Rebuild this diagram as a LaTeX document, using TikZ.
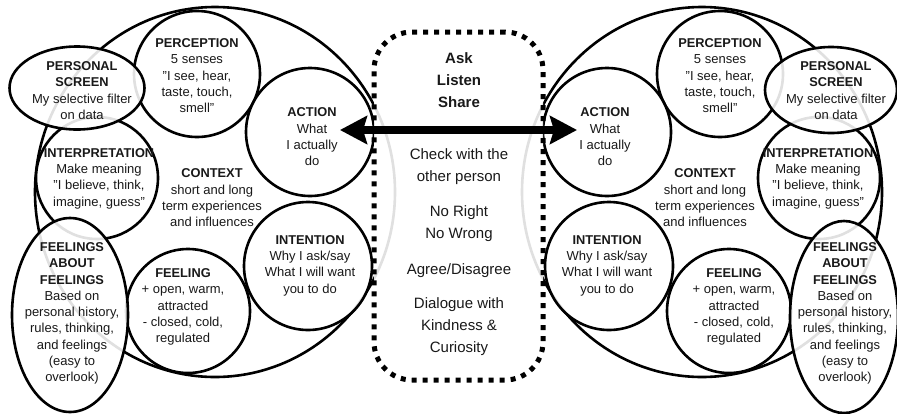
\documentclass[tikz,border=0pt]{standalone}
\usepackage{fontspec}
\setmainfont{Liberation Sans}
\usetikzlibrary{shapes.geometric,arrows.meta}
\newcommand{\ttl}[1]{{\fontsize{12.8}{16.3}\selectfont\bfseries #1}}
\newcommand{\qq}{\symbol{34}}
\begin{document}
\begin{tikzpicture}[x=1pt,y=-1pt,
  shp/.style={draw=black, line width=2.6pt, fill=white, fill opacity=0.88, inner sep=0pt},
  circ/.style={shp, circle, minimum size=#1},
  ell/.style 2 args={shp, ellipse, minimum width=#1, minimum height=#2},
  big/.style={draw=black, line width=2.6pt, ellipse, minimum width=360pt, minimum height=370pt, inner sep=0pt},
  lbl/.style={align=center, inner sep=0pt, text=black!90, font=\fontsize{13}{16.3}\selectfont},
  mid/.style={align=center, inner sep=0pt, text=black!90, font=\fontsize{15}{22}\selectfont},
  dotbox/.style={draw=black, line width=5pt, dash pattern=on 5pt off 6pt, rounded corners=38pt,
    fill=white, fill opacity=0.88, inner sep=0pt, minimum width=169pt, minimum height=348pt},
  bigarrow/.style={line width=7.5pt, {Stealth[length=27pt,width=28pt,inset=4pt]}-{Stealth[length=27pt,width=28pt,inset=4pt]}}
]
\useasboundingbox (0,0) rectangle (897,413);
\fill[white] (0,0) rectangle (897,413);

% large outer ellipses
\node[big] (bigL) at (215,192) {};
\node[big] (bigR) at (702,192) {};

% left bubbles
\node[circ=126pt] (perL) at (197,74) {};
\node[circ=122pt] (intL) at (97,178) {};
\node[circ=124pt] (feelL) at (188,311) {};
\node[circ=128pt] (actL) at (310,132) {};
\node[circ=128pt] (intnL) at (308,266) {};
\node[ell={135pt}{83pt}] (scrL) at (77,88) {};
\node[ell={116pt}{194pt}] (fafL) at (70,315) {};

% right bubbles
\node[circ=126pt] (perR) at (720,74) {};
\node[circ=122pt] (intR) at (819,178) {};
\node[circ=124pt] (feelR) at (729,311) {};
\node[circ=128pt] (actR) at (607,132) {};
\node[circ=128pt] (intnR) at (609,266) {};
\node[ell={132pt}{86pt}] (scrR) at (831,90) {};
\node[ell={108pt}{192pt}] (fafR) at (844,317) {};

% central box
\node[dotbox] (box) at (458.5,206) {};

% arrow
\coordinate (aL) at (340,130);
\coordinate (aR) at (577,130);
\draw[bigarrow] (aL) -- (aR);

% central texts
\node[mid] (t1) at (459,80.3) {\bfseries Ask\\\bfseries Listen\\\bfseries Share};
\node[mid] (t2) at (459,167) {Check with the\\other person};
\node[mid] (t3) at (459,224) {No Right\\No Wrong};
\node[mid] (t4) at (459,271) {Agree/Disagree};
\node[mid] (t5) at (459,326.7) {Dialogue with\\Kindness \&\\Curiosity};

% left texts
\node[lbl] (perLt) at (197,75.6) {\ttl{PERCEPTION}\\5 senses\\\qq I see, hear,\\taste, touch,\\smell\qq};
\node[lbl] (scrLt) at (82,90.5) {\ttl{PERSONAL}\\\ttl{SCREEN}\\My selective filter\\on data};
\node[lbl] (intLt) at (99,178.5) {\ttl{INTERPRETATION}\\Make meaning\\\qq I believe, think,\\imagine, guess\qq};
\node[lbl] (ctxLt) at (212,198) {\ttl{CONTEXT}\\short and long\\term experiences\\and influences};
\node[lbl] (actLt) at (312,137) {\ttl{ACTION}\\What\\I actually\\do};
\node[lbl] (intnLt) at (310,265.5) {\ttl{INTENTION}\\Why I ask/say\\What I will want\\you to do};
\node[lbl] (feelLt) at (183,307) {\ttl{FEELING}\\+ open, warm,\\attracted\\- closed, cold,\\regulated};
\node[lbl] (fafLt) at (72,313.5) {\ttl{FEELINGS}\\\ttl{ABOUT}\\\ttl{FEELINGS}\\Based on\\personal history,\\rules, thinking,\\and feelings\\(easy to\\overlook)};

% right texts
\node[lbl] (perRt) at (720,75.6) {\ttl{PERCEPTION}\\5 senses\\\qq I see, hear,\\taste, touch,\\smell\qq};
\node[lbl] (scrRt) at (836,90.5) {\ttl{PERSONAL}\\\ttl{SCREEN}\\My selective filter\\on data};
\node[lbl] (intRt) at (818,178.5) {\ttl{INTERPRETATION}\\Make meaning\\\qq I believe, think,\\imagine, guess\qq};
\node[lbl] (ctxRt) at (705,198) {\ttl{CONTEXT}\\short and long\\term experiences\\and influences};
\node[lbl] (actRt) at (605,137) {\ttl{ACTION}\\What\\I actually\\do};
\node[lbl] (intnRt) at (607,265.5) {\ttl{INTENTION}\\Why I ask/say\\What I will want\\you to do};
\node[lbl] (feelRt) at (734,307) {\ttl{FEELING}\\+ open, warm,\\attracted\\- closed, cold,\\regulated};
\node[lbl] (fafRt) at (845,313.5) {\ttl{FEELINGS}\\\ttl{ABOUT}\\\ttl{FEELINGS}\\Based on\\personal history,\\rules, thinking,\\and feelings\\(easy to\\overlook)};
\end{tikzpicture}
\end{document}
